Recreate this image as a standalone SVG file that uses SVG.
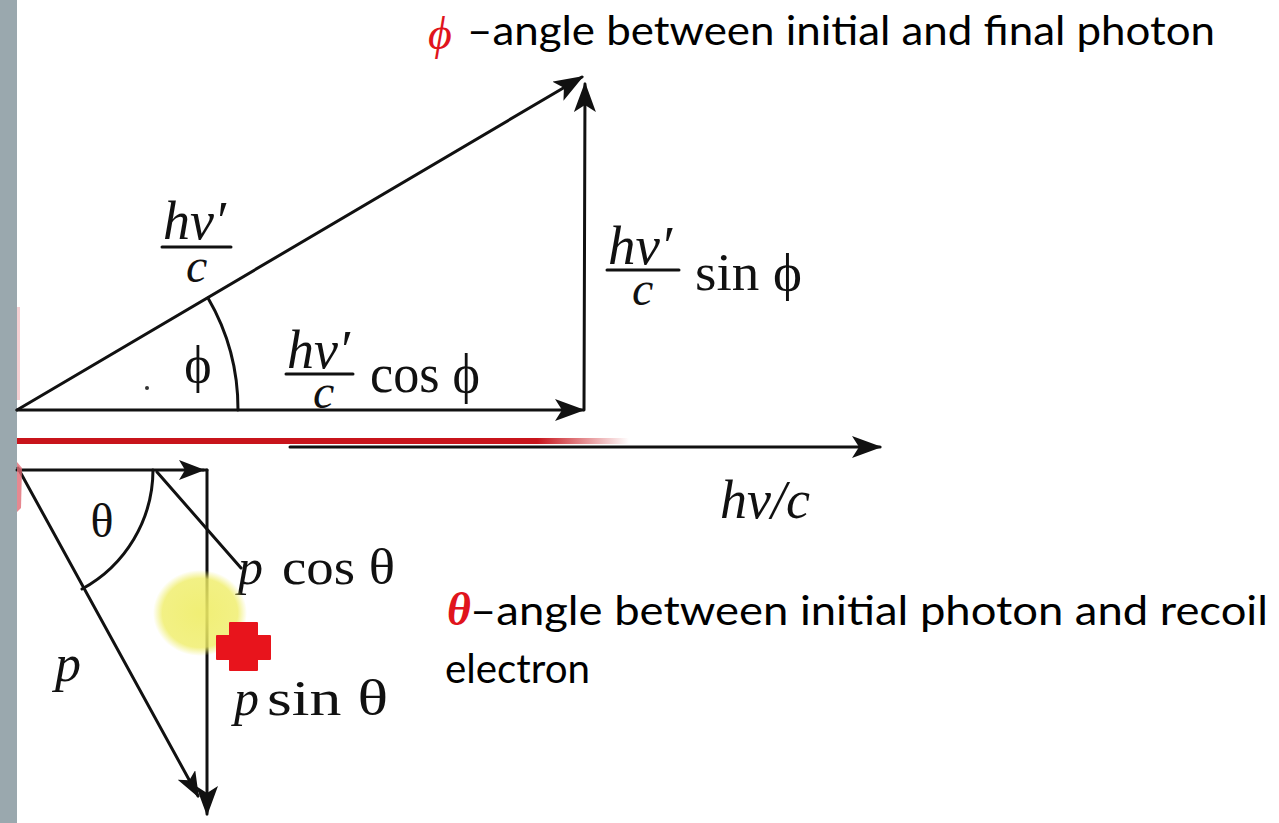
<svg xmlns="http://www.w3.org/2000/svg" width="1279" height="823" viewBox="0 0 1279 823">
<defs>
<style>
.ln{stroke:#111;stroke-width:3;fill:none;stroke-linecap:round}
.m{font-family:"Liberation Serif","DejaVu Serif",serif;fill:#111}
.it{font-style:italic}
.hd{font-family:Lato,"Liberation Sans",sans-serif;fill:#000;font-size:40px}
</style>
<marker id="ah" viewBox="0 0 30 22" refX="28" refY="11" markerWidth="30" markerHeight="22" orient="auto" markerUnits="userSpaceOnUse">
<path d="M0,0 L30,11 L0,22 L7,11 z" fill="#111"/>
</marker>
<marker id="ahs" viewBox="0 0 26 20" refX="24" refY="10" markerWidth="26" markerHeight="20" orient="auto" markerUnits="userSpaceOnUse">
<path d="M0,0 L26,10 L0,20 L6,10 z" fill="#111"/>
</marker>
<linearGradient id="redfade" x1="0" y1="0" x2="1" y2="0">
<stop offset="0" stop-color="#c8141b"/>
<stop offset="0.85" stop-color="#c8141b"/>
<stop offset="1" stop-color="#c8141b" stop-opacity="0"/>
</linearGradient>
<radialGradient id="yel">
<stop offset="0" stop-color="#efed66" stop-opacity="0.9"/>
<stop offset="0.8" stop-color="#efed66" stop-opacity="0.8"/>
<stop offset="1" stop-color="#efed66" stop-opacity="0"/>
</radialGradient>
</defs>
<rect x="0" y="0" width="1279" height="823" fill="#ffffff"/>
<rect id="sidebar" x="0" y="0" width="17" height="823" fill="#9aa8ae"/>

<g id="connectors">
<!-- top triangle -->
<line class="ln" x1="17" y1="410" x2="582" y2="77" marker-end="url(#ah)"/>
<line class="ln" x1="17" y1="410" x2="583" y2="410" marker-end="url(#ah)"/>
<line class="ln" x1="584" y1="410" x2="585" y2="84" marker-end="url(#ah)"/>
<path class="ln" d="M238,410 A221,221 0 0 0 208,298"/>
<circle cx="147" cy="388" r="2" fill="#333"/>
<!-- axis hv/c -->
<line class="ln" x1="290" y1="447" x2="880" y2="447" marker-end="url(#ah)"/>
<rect x="17" y="438" width="612" height="6" fill="url(#redfade)"/>
<!-- bottom electron triangle -->
<line class="ln" x1="17" y1="470" x2="203" y2="470" marker-end="url(#ahs)"/>
<line class="ln" x1="203" y1="470" x2="207" y2="470"/>
<line class="ln" x1="207" y1="470" x2="207" y2="814" marker-end="url(#ah)"/>
<line class="ln" x1="18" y1="468" x2="198" y2="796" marker-end="url(#ahs)"/>
<line class="ln" x1="157" y1="472" x2="241" y2="568"/>
<path class="ln" d="M153,470 A136,136 0 0 1 82,589"/>
<!-- faint red marks at left edge -->
<path d="M17,462 L22,468 L21,508 L17,512 z" fill="#e06a74" opacity="0.8"/>
<rect x="17" y="307" width="3" height="93" fill="#f3c4c8" opacity="0.8"/>
</g>

<g id="label-hv-prime-c">
<text class="m it"><tspan x="163" y="239" font-size="54">hν′</tspan><tspan x="186" y="282" font-size="48">c</tspan></text>
<line class="ln" x1="162" y1="247" x2="231" y2="247"/>
</g>

<g id="label-phi">
<text class="m" x="198" y="382" font-size="52" text-anchor="middle">ϕ</text>
</g>

<g id="label-cos-phi">
<text class="m it"><tspan x="287" y="368" font-size="54">hν′</tspan><tspan x="313" y="408" font-size="48">c</tspan></text>
<line class="ln" x1="286" y1="374" x2="353" y2="374"/>
<text class="m" x="370" y="392" font-size="54" textLength="110" lengthAdjust="spacingAndGlyphs">cos ϕ</text>
</g>

<g id="label-sin-phi">
<text class="m it"><tspan x="608" y="264" font-size="55">hν′</tspan><tspan x="632" y="305" font-size="48">c</tspan></text>
<line class="ln" x1="607" y1="270" x2="679" y2="270"/>
<text class="m" x="695" y="290" font-size="52" textLength="107" lengthAdjust="spacingAndGlyphs">sin ϕ</text>
</g>

<g id="label-hv-c">
<text class="m it" x="720" y="518" font-size="54" textLength="90" lengthAdjust="spacingAndGlyphs">hν/c</text>
</g>

<g id="label-theta">
<text class="m" x="102" y="537" font-size="48" text-anchor="middle">θ</text>
</g>

<g id="label-p">
<text class="m it" x="55" y="681" font-size="52">p</text>
</g>

<g id="label-p-cos">
<text class="m it" x="238" y="584" font-size="50">p</text>
<text class="m" x="282" y="584" font-size="50" textLength="113" lengthAdjust="spacingAndGlyphs">cos θ</text>
</g>

<g id="label-p-sin">
<text class="m it" x="234" y="715" font-size="50">p</text>
<text class="m" x="267" y="715" font-size="50" textLength="121" lengthAdjust="spacingAndGlyphs">sin θ</text>
</g>

<g id="pointer">
<ellipse cx="200" cy="613" rx="47" ry="43" fill="url(#yel)"/>
<path d="M230,623 H257 V636 H270 V659 H257 V670 H230 V659 H217 V636 H230 z" fill="#e8141c" stroke="#e8141c" stroke-width="2" stroke-linejoin="round"/>
</g>

<g id="heading-phi">
<text x="428" y="49" font-family="'Liberation Serif',serif" font-style="italic" font-size="46" fill="#e0141c">ϕ</text>
<text class="hd" x="467" y="45" textLength="748" lengthAdjust="spacingAndGlyphs">–angle between initial and final photon</text>
</g>

<g id="heading-theta">
<text x="447" y="625" font-family="'Liberation Serif',serif" font-style="italic" font-weight="bold" font-size="46" fill="#e0141c">θ</text>
<text class="hd" x="470" y="625" textLength="798" lengthAdjust="spacingAndGlyphs">–angle between initial photon and recoil</text>
<text class="hd" x="445" y="683" textLength="145" lengthAdjust="spacingAndGlyphs">electron</text>
</g>
</svg>
